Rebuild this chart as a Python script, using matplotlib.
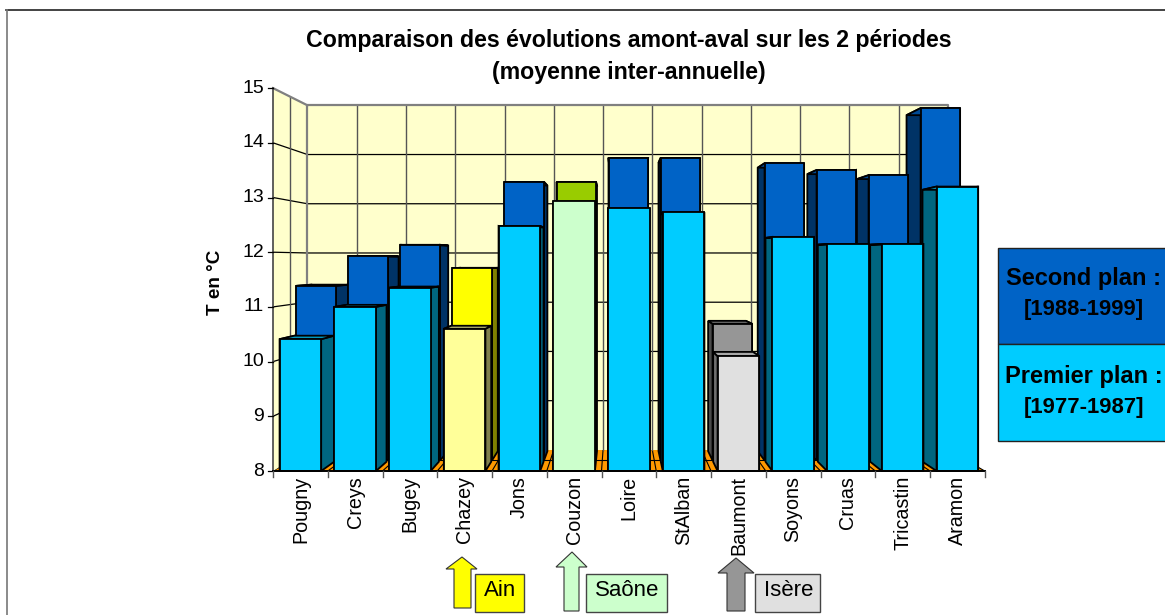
import matplotlib
matplotlib.use("Agg")
import matplotlib.pyplot as plt
from matplotlib.patches import Polygon, Rectangle

plt.rcParams['font.family'] = ['Liberation Sans', 'DejaVu Sans']

stations = ["Pougny", "Creys", "Bugey", "Chazey", "Jons", "Couzon", "Loire",
            "StAlban", "Baumont", "Soyons", "Cruas", "Tricastin", "Aramon"]
premier = [10.41, 11.0, 11.35, 10.6, 12.48, 12.93, 12.8, 12.73, 10.1, 12.28, 12.15, 12.15, 13.2]
second = [11.36, 11.93, 12.15, 11.7, 13.36, 13.36, 13.82, 13.82, 10.63, 13.72, 13.59, 13.49, 14.78]
y_ticks = [8, 9, 10, 11, 12, 13, 14, 15]

# colours per river: (front, side, top)
C_FRONT = ("#00CCFF", "#006680", "#0099BF")
C_BACK = ("#0063C6", "#003366", "#004A94")
front_colors = {3: ("#FFFF99", "#80804D", "#BFBF73"), 5: ("#CCFFCC", "#668066", "#99BF99"),
                8: ("#E0E0E0", "#707070", "#A8A8A8")}
back_colors = {3: ("#FFFF00", "#808000", "#BFBF00"), 5: ("#99CC00", "#4D6600", "#739900"),
               8: ("#969696", "#4B4B4B", "#707070")}

# oblique perspective projection of the 3D chart box to figure pixels
X0, DX = 273.0, 54.75
Y8, DY = 471.0, 54.7
VX, VY = 617.0, 260.0
SHRINK = 0.10


def P(x, v, d):
    s = 1 - SHRINK * d
    return (VX + (X0 + DX * x - VX) * s, VY + (Y8 - DY * (v - 8) - VY) * s)


fig = plt.figure(figsize=(11.65, 6.15), dpi=100)
ax = fig.add_axes([0, 0, 1, 1])
ax.set_xlim(0, 1165)
ax.set_ylim(615, 0)
ax.axis("off")
n = len(stations)
WALL = "#FFFFCC"
GRID = "#808080"

# floor
ax.add_patch(Polygon([P(0, 8, 0), P(n, 8, 0), P(n, 8, 1), P(0, 8, 1)], fc="#FF9900", ec="none", zorder=1))
for i in range(n + 1):
    ax.plot(*zip(P(i, 8, 0), P(i, 8, 1)), color="black", lw=0.8, zorder=1.1)
ax.plot(*zip(P(0, 8, .5), P(n, 8, .5)), color="black", lw=0.8, zorder=1.1)
# walls
ax.add_patch(Polygon([P(0, 8, 1), P(n, 8, 1), P(n, 15, 1), P(0, 15, 1)], fc=WALL, ec="none", zorder=1.2))
ax.add_patch(Polygon([P(0, 8, 0), P(0, 8, 1), P(0, 15, 1), P(0, 15, 0)], fc=WALL, ec="none", zorder=1.2))
for v in y_ticks[1:-1]:
    ax.plot(*zip(P(0, v, 0), P(0, v, 1), P(n, v, 1)), color="black", lw=0.9, zorder=1.3)
for i in range(1, n):
    ax.plot(*zip(P(i, 8, 1), P(i, 15, 1)), color="#555555", lw=1.0, zorder=1.3)
ax.plot(*zip(P(0, 8, .5), P(0, 15, .5)), color="#555555", lw=1.0, zorder=1.3)
ax.plot(*zip(P(0, 8, 1), P(0, 15, 1), P(n, 15, 1), P(n, 8, 1)), color=GRID, lw=1.6, zorder=1.4)
ax.plot(*zip(P(0, 15, 0), P(0, 15, 1)), color=GRID, lw=1.6, zorder=1.4)


def bar(i, v, d0, d1, cols, z):
    x0, x1 = i + 0.12, i + 0.88
    front, side, top = cols
    kw = dict(ec="black", lw=1.3, joinstyle="miter", zorder=z)
    ax.add_patch(Polygon([P(x0, 8, d0), P(x0, 8, d1), P(x0, v, d1), P(x0, v, d0)], fc=side, **kw))
    ax.add_patch(Polygon([P(x1, 8, d0), P(x1, 8, d1), P(x1, v, d1), P(x1, v, d0)], fc=side, **kw))
    ax.add_patch(Polygon([P(x0, v, d0), P(x1, v, d0), P(x1, v, d1), P(x0, v, d1)], fc=top, **kw))
    ax.add_patch(Polygon([P(x0, 8, d0), P(x1, 8, d0), P(x1, v, d0), P(x0, v, d0)], fc=front, **kw))


# paint from the outside towards the vanishing point
order = sorted(range(n), key=lambda k: -abs(X0 + DX * (k + .5) - VX))
for z, i in enumerate(order):
    bar(i, second[i], 0.5, 0.94, back_colors.get(i, C_BACK), 2 + z * 0.01)
for z, i in enumerate(order):
    bar(i, premier[i], 0.0, 0.44, front_colors.get(i, C_FRONT), 3 + z * 0.01)

# axes lines, ticks, labels
ax.plot(*zip(P(0, 8, 0), P(n, 8, 0)), color="black", lw=1.4, zorder=4)
ax.plot(*zip(P(0, 8, 0), P(0, 15, 0)), color="#444444", lw=1.2, zorder=1.5)
for v in y_ticks:
    px, py = P(0, v, 0)
    ax.plot([px - 5, px], [py, py], color="black", lw=0.9, zorder=4)
    ax.text(px - 9, py, str(v), ha="right", va="center", fontsize=14)
for i in range(n + 1):
    px, py = P(i, 8, 0)
    ax.plot([px, px], [py, py + 6], color="#555555", lw=1.0, zorder=4)
for i, s in enumerate(stations):
    px, py = P(i + .5, 8, 0)
    ax.text(px, py + 5, s, rotation=90, ha="center", va="top", fontsize=14.2)

ax.text(629, 40, "Comparaison des évolutions amont-aval sur les 2 périodes",
        ha="center", va="center", fontsize=16.7, fontweight="bold")
ax.text(629, 72, "(moyenne inter-annuelle)", ha="center", va="center", fontsize=16.7, fontweight="bold")
ax.text(215, 282, "T en °C", rotation=90, ha="center", va="center", fontsize=13.6, fontweight="bold")

# legend
ax.add_patch(Rectangle((998, 248), 170, 96, fc="#0063C6", ec="#222222", lw=1.0))
ax.add_patch(Rectangle((998, 344), 170, 97, fc="#00CCFF", ec="#222222", lw=1.0))
ax.text(1084, 279, "Second plan :", ha="center", va="center", fontsize=17, fontweight="bold")
ax.text(1084, 310, "[1988-1999]", ha="center", va="center", fontsize=15.8, fontweight="bold")
ax.text(1084, 376, "Premier plan :", ha="center", va="center", fontsize=17, fontweight="bold")
ax.text(1084, 407, "[1977-1987]", ha="center", va="center", fontsize=15.8, fontweight="bold")


# rivers
def arrow(tip_x, tip_y, base_y, wl, wr, sl, sr, bot, col):
    ax.add_patch(Polygon([(tip_x, tip_y), (wr, base_y), (sr, base_y), (sr, bot), (sl, bot),
                          (sl, base_y), (wl, base_y)], fc=col, ec="#333333", lw=0.8))


arrow(462, 557, 569, 446, 477, 454, 471, 608, "#FFFF00")
arrow(572, 552, 567, 556, 587, 564, 579, 611, "#CCFFCC")
arrow(736, 558, 573, 718, 754, 727, 745, 611, "#969696")
for x0, x1, col, s in [(475, 524, "#FFFF00", "Ain"), (586, 667, "#CCFFCC", "Saône"), (755, 820, "#E0E0E0", "Isère")]:
    ax.add_patch(Rectangle((x0, 574), x1 - x0, 38, fc=col, ec="#444444", lw=1.0))
    ax.text((x0 + x1) / 2 + 1, 591, s, ha="center", va="center", fontsize=16)

# chart frame
ax.plot([6, 1165], [9.5, 9.5], color="#222222", lw=1.2, zorder=5)
ax.plot([6.5, 6.5], [9.5, 615], color="#777777", lw=1.2, zorder=5)

fig.savefig("out.png", dpi=100)
